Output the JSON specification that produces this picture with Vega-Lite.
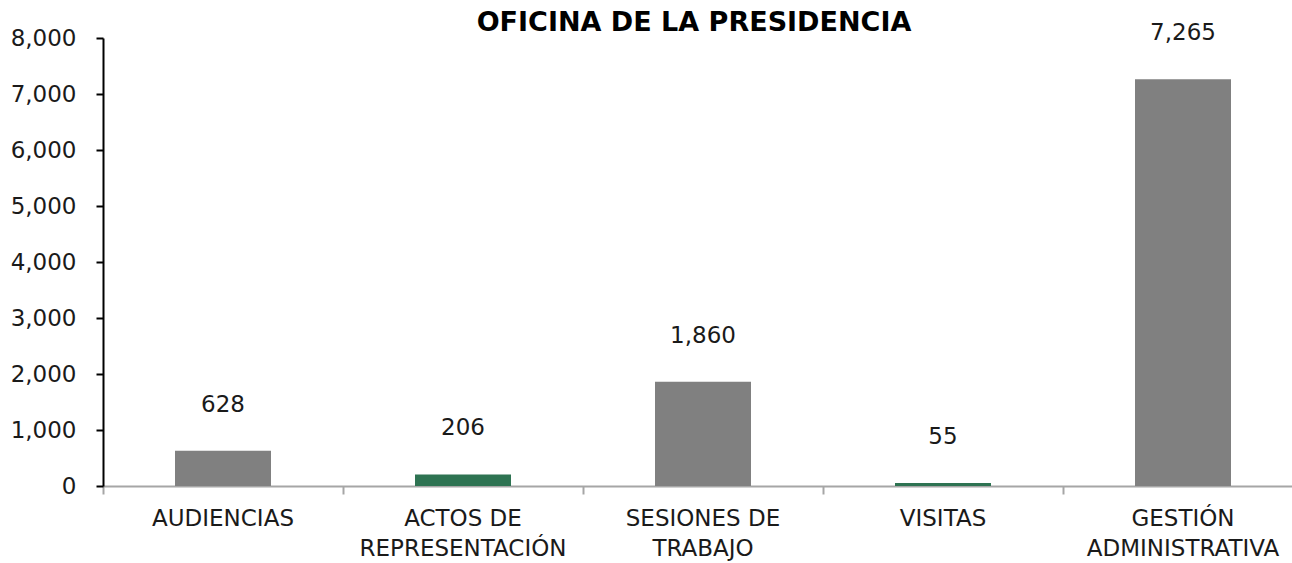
{
  "$schema": "https://vega.github.io/schema/vega-lite/v6.json",
  "autosize": "none",
  "width": 1200,
  "height": 448,
  "padding": {"left": 103, "top": 38, "right": 0, "bottom": 77},
  "background": "white",
  "title": {
    "text": "OFICINA DE LA PRESIDENCIA",
    "font": "DejaVu Sans",
    "fontSize": 27,
    "fontWeight": "bold",
    "color": "#000000",
    "anchor": "middle",
    "frame": "group",
    "baseline": "alphabetic",
    "offset": 0,
    "dx": -9,
    "dy": 36
  },
  "config": {
    "view": {"stroke": null},
    "font": "DejaVu Sans"
  },
  "data": {
    "values": [
      {"categoria": "AUDIENCIAS", "total": 628},
      {"categoria": "ACTOS DE REPRESENTACIÓN", "total": 206},
      {"categoria": "SESIONES DE TRABAJO", "total": 1860},
      {"categoria": "VISITAS", "total": 55},
      {"categoria": "GESTIÓN ADMINISTRATIVA", "total": 7265}
    ]
  },
  "encoding": {
    "x": {
      "field": "categoria",
      "type": "nominal",
      "sort": null,
      "scale": {"paddingInner": 0.6, "paddingOuter": 0.3},
      "axis": {
        "title": null,
        "labelAngle": 0,
        "labelFont": "DejaVu Sans",
        "labelFontSize": 23,
        "labelColor": "#1a1a1a",
        "labelLineHeight": 30,
        "labelPadding": 13,
        "labelLimit": 1000,
        "labelExpr": "indexof(datum.label, ' ') < 0 ? datum.label : [substring(datum.label, 0, lastindexof(datum.label, ' ')), substring(datum.label, lastindexof(datum.label, ' ') + 1)]",
        "domainColor": "#a6a6a6",
        "domainWidth": 2,
        "tickColor": "#a6a6a6",
        "tickWidth": 2,
        "tickSize": 8,
        "bandPosition": -0.75
      }
    },
    "y": {
      "field": "total",
      "type": "quantitative",
      "scale": {"domain": [0, 8000]},
      "axis": {
        "title": null,
        "values": [0, 1000, 2000, 3000, 4000, 5000, 6000, 7000, 8000],
        "format": ",d",
        "grid": false,
        "labelFont": "DejaVu Sans",
        "labelFontSize": 23,
        "labelColor": "#1a1a1a",
        "labelPadding": 20,
        "domainColor": "#000000",
        "domainWidth": 2,
        "tickColor": "#000000",
        "tickWidth": 2,
        "tickSize": 7
      }
    }
  },
  "layer": [
    {
      "mark": {"type": "bar"},
      "encoding": {
        "color": {
          "condition": {
            "test": "datum.categoria == 'ACTOS DE REPRESENTACIÓN' || datum.categoria == 'VISITAS'",
            "value": "#2e7352"
          },
          "value": "#808080"
        }
      }
    },
    {
      "mark": {
        "type": "text",
        "baseline": "middle",
        "dy": -46,
        "font": "DejaVu Sans",
        "fontSize": 23,
        "color": "#1a1a1a"
      },
      "encoding": {
        "text": {"field": "total", "type": "quantitative", "format": ",d"}
      }
    }
  ]
}
